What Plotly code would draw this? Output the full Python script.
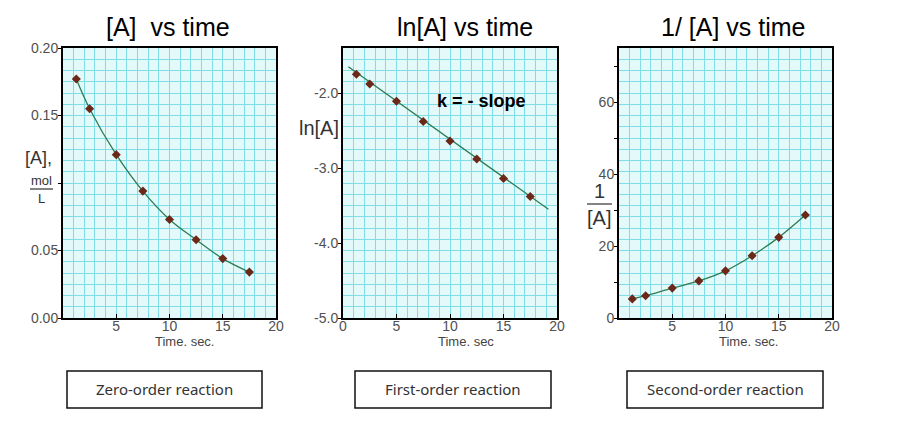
import plotly.graph_objects as go

# ---------------- data ----------------
time_s = [1.25, 2.5, 5, 7.5, 10, 12.5, 15, 17.5]
conc_A = [0.177, 0.155, 0.121, 0.094, 0.073, 0.058, 0.044, 0.034]
ln_A = [-1.75, -1.88, -2.11, -2.38, -2.64, -2.88, -3.14, -3.38]
inv_A = [5.3, 6.2, 8.3, 10.3, 13.1, 17.3, 22.4, 28.6]

fit_time = [0.5, 19.2]
fit_ln_A = [-1.65, -3.55]

x_tickvals_a = [5, 10, 15, 20]
x_tickvals_b = [0, 5, 10, 15, 20]
y1_tickvals = [0.0, 0.05, 0.10, 0.15, 0.20]
y1_ticktext = ["0.00", "0.05", "", "0.15", "0.20"]
y2_tickvals = [-5.0, -4.0, -3.0, -2.0]
y2_ticktext = ["-5.0", "-4.0", "-3.0", "-2.0"]
y3_tickvals = [0, 10, 20, 30, 40, 50, 60, 70]
y3_ticktext = ["0", "", "20", "", "40", "", "60", ""]

titles = ["[A]  vs time", "ln[A] vs time", "1/ [A] vs time"]
x_titles = ["Time. sec.", "Time. sec", "Time. sec."]
box_labels = ["Zero-order reaction", "First-order reaction", "Second-order reaction"]

# ---------------- styling ----------------
# the page body has an 8px margin, so the figure is placed at (8, 8)
OFF = 8
W, H = 919 - OFF, 429 - OFF
def px(x):
    return (x - OFF) / W
def py(y):
    return 1 - (y - OFF) / H

LINE_C = "#2c7d52"
MARK_C = "#6b2818"
BG = "#e4fafa"
GRID = "#80dce6"
TICKFONT = dict(family="Liberation Sans, Arial", size=14, color="#505050")

fig = go.Figure()

fig.add_trace(go.Scatter(x=time_s, y=conc_A, mode="lines+markers",
                         line=dict(color=LINE_C, width=1.3, shape="spline"),
                         marker=dict(symbol="diamond", size=7, color=MARK_C),
                         xaxis="x", yaxis="y", showlegend=False))
fig.add_trace(go.Scatter(x=fit_time, y=fit_ln_A, mode="lines",
                         line=dict(color=LINE_C, width=1.3),
                         xaxis="x2", yaxis="y2", showlegend=False))
fig.add_trace(go.Scatter(x=time_s, y=ln_A, mode="markers",
                         marker=dict(symbol="diamond", size=7, color=MARK_C),
                         xaxis="x2", yaxis="y2", showlegend=False))
fig.add_trace(go.Scatter(x=time_s, y=inv_A, mode="lines+markers",
                         line=dict(color=LINE_C, width=1.3, shape="spline"),
                         marker=dict(symbol="diamond", size=7, color=MARK_C),
                         xaxis="x3", yaxis="y3", showlegend=False))

ydom = [py(318), py(48)]
xdoms = [[px(63), px(276)], [px(343), px(557)], [px(619), px(832)]]
yranges = [[0, 0.20], [-5.0, -1.4], [0, 75]]

def xaxis(dom, anchor, tickvals):
    return dict(domain=dom, anchor=anchor, range=[0, 20], tickvals=tickvals,
                ticks="inside", ticklen=4, tickcolor="#000", showgrid=False,
                showline=True, linecolor="#000", linewidth=2, mirror=True,
                zeroline=False, tickfont=TICKFONT, ticklabelstandoff=-6,
                automargin=False,
                minor=dict(dtick=1, tick0=0, showgrid=True, gridcolor=GRID,
                           gridwidth=1, ticks=""))

def yaxis(anchor, rng, tickvals, ticktext):
    return dict(domain=ydom, anchor=anchor, range=rng, tickvals=tickvals,
                ticktext=ticktext, ticks="outside", ticklen=3, tickcolor="#000",
                showgrid=False, showline=True, linecolor="#000", linewidth=2,
                mirror=True, zeroline=False, tickfont=TICKFONT, automargin=False,
                ticklabelstandoff=-3,
                minor=dict(dtick=(rng[1] - rng[0]) / 24, tick0=rng[0],
                           showgrid=True, gridcolor=GRID, gridwidth=1, ticks=""))

fig.update_layout(
    width=W, height=H, margin=dict(l=0, r=0, t=0, b=0),
    paper_bgcolor="white", plot_bgcolor=BG,
    xaxis=xaxis(xdoms[0], "y", x_tickvals_a),
    xaxis2=xaxis(xdoms[1], "y2", x_tickvals_b),
    xaxis3=xaxis(xdoms[2], "y3", x_tickvals_a),
    yaxis=yaxis("x", yranges[0], y1_tickvals, y1_ticktext),
    yaxis2=yaxis("x2", yranges[1], y2_tickvals, y2_ticktext),
    yaxis3=yaxis("x3", yranges[2], y3_tickvals, y3_ticktext),
)

ann = []
shapes = []

def add_text(text, x, y, font):
    ann.append(dict(text=text, x=px(x), y=py(y), xref="paper", yref="paper",
                    xanchor="center", yanchor="middle", showarrow=False, font=font))

title_pos = [(168, 27), (465, 27), (733, 27)]
for t, (x, y) in zip(titles, title_pos):
    add_text(t, x, y, dict(family="Liberation Sans, Arial", size=25, color="#000"))

xt_pos = [(184, 341), (466, 341), (748, 341)]
for t, (x, y) in zip(x_titles, xt_pos):
    add_text(t, x, y, dict(family="Liberation Sans, Arial", size=13, color="#444"))

# y-axis labels
LAB = dict(family="Liberation Sans, Arial", size=20, color="#333")
SMALL = dict(family="Liberation Sans, Arial", size=13, color="#333")
add_text("[A],", 39, 158, dict(family="Liberation Sans, Arial", size=18, color="#333"))
add_text("mol", 41, 180, SMALL)
add_text("L", 41, 199, SMALL)
shapes.append(dict(type="line", xref="paper", yref="paper", x0=px(30), x1=px(53),
                   y0=py(189), y1=py(189), line=dict(color="#333", width=1.2)))

add_text("ln[A]", 319, 128, LAB)

add_text("1", 599, 191, LAB)
add_text("[A]", 599, 218, LAB)
shapes.append(dict(type="line", xref="paper", yref="paper", x0=px(587), x1=px(612),
                   y0=py(204), y1=py(204), line=dict(color="#333", width=1.2)))

add_text("<b>k = - slope</b>", 481, 101, dict(family="Liberation Sans, Arial", size=18, color="#000"))

box_pos = [(67, 262), (355, 551), (627, 823)]
for t, (x0, x1) in zip(box_labels, box_pos):
    shapes.append(dict(type="rect", xref="paper", yref="paper", x0=px(x0), x1=px(x1),
                       y0=py(408), y1=py(371), line=dict(color="#111", width=1.5)))
    add_text(t, (x0 + x1) / 2, 389, dict(family="Noto Sans", size=15, color="#333"))

fig.update_layout(annotations=ann, shapes=shapes)
fig.write_html("out.html")
